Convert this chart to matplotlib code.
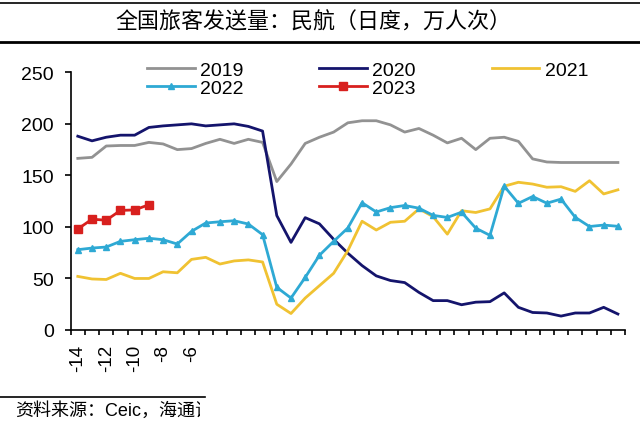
import numpy as np
import matplotlib
matplotlib.use("Agg")
import matplotlib.pyplot as plt
from matplotlib.lines import Line2D
from matplotlib.transforms import Bbox

plt.rcParams['font.family'] = ['Liberation Sans', 'Noto Sans CJK SC', 'DejaVu Sans']

# Days relative to Spring Festival
days = np.arange(-14, 25)
tick_days = [-14, -12, -10, -8, -6]
tick_labels = ['-14', '-12', '-10', '-8', '-6']

s2019 = [166.5, 167.5, 178.5, 179, 179, 182, 180.5, 175, 176, 181, 185, 181, 185, 182,
         144, 161, 181, 187, 192, 201, 203, 203, 199, 192, 195.5, 189, 181.5, 186, 175,
         186, 187, 183, 166, 163, 162.5, 162.5, 162.5, 162.5, 162.5]
s2020 = [188, 183.5, 187, 189, 189, 196.5, 198, 199, 200, 198, 199, 200, 197.5, 193,
         111, 85, 109, 103, 88, 74.5, 62.5, 52.5, 48, 46, 36.5, 28.5, 28.5, 24.5, 27,
         27.5, 36, 22, 17, 16.5, 13.5, 16.5, 16.5, 22, 15.5]
s2021 = [52, 49.5, 49, 55, 50, 50, 56.5, 55.5, 68.5, 70.5, 64, 67, 68, 66,
         25, 16, 31, 43, 55, 77, 105.5, 97, 104.5, 105.5, 117.5, 110, 93, 115.7, 114,
         117.5, 139.5, 143.3, 141.6, 138.5, 139, 134.5, 144.8, 132, 136]
s2022 = [77.9, 79.5, 80.5, 86, 87.6, 89, 87.6, 83.4, 95.7, 103.8, 105, 106, 102.8, 92.5,
         41.4, 31, 51, 72.5, 86, 99, 123.5, 114.5, 118.7, 120.8, 118.2, 111.2, 109.2, 114.3,
         98.8, 91.8, 139.5, 122.9, 129.5, 123, 127, 109.3, 100.4, 101.8, 100.6]
s2023 = [98, 107.5, 106.5, 116, 116.5, 121.5]

fig = plt.figure(figsize=(6.4, 4.31), dpi=100)
ax = fig.add_axes([70.7 / 640, 1 - 331 / 431, (625 - 70.7) / 640, (331 - 73.3) / 431])

h19, = ax.plot(days, s2019, color='#929292', lw=2.0, label='2019')
h20, = ax.plot(days, s2020, color='#14146c', lw=2.0, label='2020')
h21, = ax.plot(days, s2021, color='#f0c232', lw=2.0, label='2021')
h22, = ax.plot(days, s2022, color='#2ea9d4', lw=2.0, marker='^', markersize=4.5, label='2022')
h23, = ax.plot(days[:len(s2023)], s2023, color='#d8201e', lw=2.0, marker='s', markersize=5.5, label='2023')

ax.set_xlim(-14.5, 24.5)
ax.set_ylim(0, 250)
ax.set_yticks([0, 50, 100, 150, 200, 250])
ax.tick_params(axis='y', direction='out', length=4, width=1.2, labelsize=14, pad=8)
ax.set_xticks(np.arange(-14.5, 25, 1))
ax.set_xticklabels([])
ax.tick_params(axis='x', which='major', direction='out', length=3.8, width=1.2)
ax.set_xticks(tick_days, minor=True)
ax.set_xticklabels(tick_labels, minor=True, rotation=90, fontsize=13.5)
ax.tick_params(axis='x', which='minor', length=0, pad=10)
for sp in ['top', 'right']:
    ax.spines[sp].set_visible(False)
for sp in ['left', 'bottom']:
    ax.spines[sp].set_linewidth(1.2)

leg = ax.legend([h19, h22, h20, h23, h21], ['2019', '2022', '2020', '2023', '2021'],
                ncol=3, frameon=False, fontsize=14, handlelength=2.45, handletextpad=0.28,
                columnspacing=3.9, labelspacing=0.05, numpoints=1,
                loc='upper left', bbox_to_anchor=(147 / 640, 1 - 62 / 431),
                bbox_transform=fig.transFigure, borderpad=0, borderaxespad=0)

# Title with rules
fig.add_artist(Line2D([0, 1], [1 - 4 / 431, 1 - 4 / 431], color='black', lw=1.2))
fig.add_artist(Line2D([0, 1], [1 - 43 / 431, 1 - 43 / 431], color='black', lw=2.0))
fig.text(0.49, 1 - 23 / 431, '全国旅客发送量：民航（日度，万人次）', ha='center', va='center',
         fontsize=15.8, family=['Noto Sans CJK SC'])

# Source
fig.add_artist(Line2D([0, 205 / 640], [1 - 398 / 431, 1 - 398 / 431], color='black', lw=1.2))
src = fig.text(15 / 640, 1 - 411 / 431, '资料来源：Ceic，海通证券研究所', ha='left', va='center',
               fontsize=13, family=['Liberation Sans', 'Noto Sans CJK SC'])
src.set_clip_box(Bbox.from_extents(0, 0, 200, 431))
src.set_clip_on(True)

fig.savefig('out.png', dpi=100)
